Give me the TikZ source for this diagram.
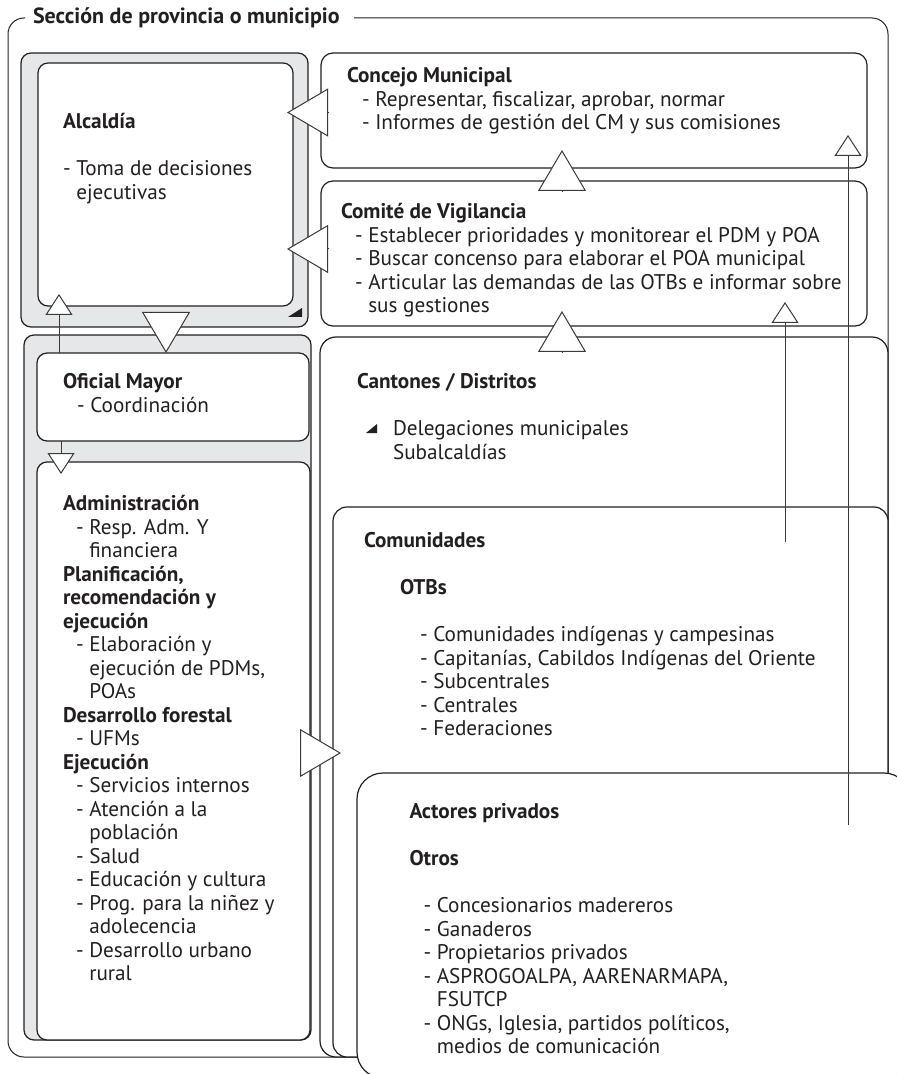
\documentclass[tikz,border=0pt]{standalone}
\usepackage{fontspec}
\setmainfont{PT Sans}
\usetikzlibrary{arrows.meta, calc}
\definecolor{ink}{HTML}{231F20}
\definecolor{shade}{HTML}{E6E7E8}
\definecolor{wire}{HTML}{3A3A3A}
\newcommand{\itm}[1][6.5pt]{\hspace*{#1}-~}
\newcommand{\cnt}[1][6.5pt]{\hspace*{#1}\phantom{-~}}
\tikzset{
  panel/.style={rectangle, rounded corners=5pt, draw=ink, fill=white,
    line width=0.6pt, inner sep=0pt, outer sep=0pt, anchor=north west},
  greypanel/.style={panel, fill=shade},
  txt/.style={anchor=north west, align=left, inner sep=0pt, outer sep=0pt,
    text=ink, font=\fontsize{10.6}{11.75}\selectfont},
  bigtip/.style={-{Triangle[length=20.5pt, width=24pt, fill=white]},
    draw=wire, line width=0.5pt},
  smalltip/.style={-{Triangle[length=10.5pt, width=13.5pt, fill=white]},
    draw=wire, line width=0.5pt},
}

\begin{document}
\begin{tikzpicture}[x=0.5pt, y=-0.5pt]
  \clip (0,0) rectangle (897,1074);

  % outer frame, the title sits in the gap of the top line
  \draw[ink, line width=0.5pt, rounded corners=8pt]
    (25,18) -- (8,18) -- (8,1057) -- (888,1057) -- (888,18) -- (354,18);
  \node[txt, anchor=base west, font=\fontsize{11}{12}\selectfont\bfseries] (seccion) at (33,24)
    {Sección de provincia o municipio};

  % left column
  \node[greypanel, minimum width=143.5pt, minimum height=137pt] (alcFrame) at (21,53) {};
  \node[panel, minimum width=127.5pt, minimum height=121.5pt] (alcaldia) at (38,63) {};
  \fill[ink] (302,308) -- (302,317) -- (288,317) -- cycle;
  \node[greypanel, minimum width=143.5pt, minimum height=352.5pt] (ejeFrame) at (24,335) {};
  \node[panel, minimum width=136pt, minimum height=44pt] (oficial) at (37,353) {};
  \node[panel, minimum width=136.5pt, minimum height=289pt] (admin) at (37,462) {};

  % right column
  \node[panel, rounded corners=6pt, minimum width=273pt, minimum height=57.5pt] (concejo) at (321,53) {};
  \node[panel, rounded corners=6pt, minimum width=273pt, minimum height=72.5pt] (comite) at (321,181) {};
  \node[panel, rounded corners=8pt, minimum width=284pt, minimum height=360pt] (cantones) at (320,337) {};
  \node[panel, rounded corners=7pt, minimum width=277.5pt, minimum height=275pt] (comunidades) at (333,507) {};
  \node[panel, rounded corners=13pt, minimum width=276.5pt, minimum height=152.5pt] (actores) at (357,773) {};

  % texts
  \node[txt] (alcTxt) at (63,112.5)
    {\strut\textbf{Alcaldía}\\[11.75pt]
     - Toma de decisiones\\
     \cnt[0pt]ejecutivas};
  \node[txt] (concejoTxt) at (347,66.5)
    {\strut\textbf{Concejo Municipal}\\
     \itm[7.5pt]Representar, fiscalizar, aprobar, normar\\
     \itm[7.5pt]Informes de gestión del CM y sus comisiones};
  \node[txt] (comiteTxt) at (341,202.5)
    {\strut\textbf{Comité de Vigilancia}\\
     \itm[7pt]Establecer prioridades y monitorear el PDM y POA\\
     \itm[7pt]Buscar concenso para elaborar el POA municipal\\
     \itm[7pt]Articular las demandas de las OTBs e informar sobre\\
     \cnt[7pt]sus gestiones};
  \node[txt] (oficialTxt) at (63,372.5)
    {\strut\textbf{Oficial Mayor}\\
     \itm[7pt]Coordinación};
  \node[txt] (adminTxt) at (63,494.5)
    {\strut\textbf{Administración}\\
     \itm Resp. Adm. Y\\
     \cnt financiera\\
     \textbf{Planificación,}\\
     \textbf{recomendación y}\\
     \textbf{ejecución}\\
     \itm Elaboración y\\
     \cnt ejecución de PDMs,\\
     \cnt POAs\\
     \textbf{Desarrollo forestal}\\
     \itm UFMs\\
     \textbf{Ejecución}\\
     \itm Servicios internos\\
     \itm Atención a la\\
     \cnt población\\
     \itm Salud\\
     \itm Educación y cultura\\
     \itm Prog. para la niñez y\\
     \cnt adolecencia\\
     \itm Desarrollo urbano\\
     \cnt rural};
  \node[txt] (cantonesTxt) at (357,372.5)
    {\strut\textbf{Cantones / Distritos}\\[11.75pt]
     \hspace*{18pt}Delegaciones municipales\\
     \hspace*{18pt}Subalcaldías};
  \fill[ink] (377,424) -- (377,433) -- (366,433) -- cycle;
  \node[txt] (comunTxt) at (364,531.5)
    {\strut\textbf{Comunidades}\\[11.75pt]
     \hspace*{18pt}\textbf{OTBs}\\[11.75pt]
     \itm[28pt]Comunidades indígenas y campesinas\\
     \itm[28pt]Capitanías, Cabildos Indígenas del Oriente\\
     \itm[28pt]Subcentrales\\
     \itm[28pt]Centrales\\
     \itm[28pt]Federaciones};
  \node[txt] (actoresTxt) at (409.5,802.5)
    {\strut\textbf{Actores privados}\\[11.75pt]
     \textbf{Otros}\\[11.75pt]
     \itm[7pt]Concesionarios madereros\\
     \itm[7pt]Ganaderos\\
     \itm[7pt]Propietarios privados\\
     \itm[7pt]ASPROGOALPA, AARENARMAPA,\\
     \cnt[7pt]FSUTCP\\
     \itm[7pt]ONGs, Iglesia, partidos políticos,\\
     \cnt[7pt]medios de comunicación};

  % open triangles between the boxes
  \draw[bigtip] ([xshift=3.5pt,yshift=-1pt]concejo.west) -- ([xshift=-17pt,yshift=-1pt]concejo.west);
  \draw[bigtip] ([xshift=3.5pt,yshift=2.25pt]comite.west) -- ([xshift=-17pt,yshift=2.25pt]comite.west);
  \draw[bigtip] ([xshift=-16pt,yshift=-11.5pt]concejo.south) -- ([xshift=-16pt,yshift=9pt]concejo.south);
  \draw[bigtip] ([xshift=-16pt,yshift=-13pt]comite.south) -- ([xshift=-16pt,yshift=7.5pt]comite.south);
  \draw[bigtip] ([xshift=-3.5pt,yshift=20.5pt]oficial.north) -- ([xshift=-3.5pt]oficial.north);
  \draw[bigtip] ([xshift=-5pt,yshift=-1pt]admin.east) -- ([xshift=15.5pt,yshift=-1pt]admin.east);

  % thin arrows
  \draw[smalltip] ([xshift=11pt]oficial.north west) -- ([xshift=11pt,yshift=29.5pt]oficial.north west);
  \draw[smalltip] ([xshift=12pt]oficial.south west) -- ([xshift=12pt,yshift=-6pt]admin.north west);
  \coordinate (actTail) at (848,825);
  \coordinate (comTail) at (785,542);
  \draw[smalltip] (actTail) -- ([xshift=-9.5pt,yshift=16.5pt]concejo.south east);
  \draw[smalltip] (comTail) -- ([xshift=-41pt,yshift=12pt]comite.south east);
\end{tikzpicture}
\end{document}
